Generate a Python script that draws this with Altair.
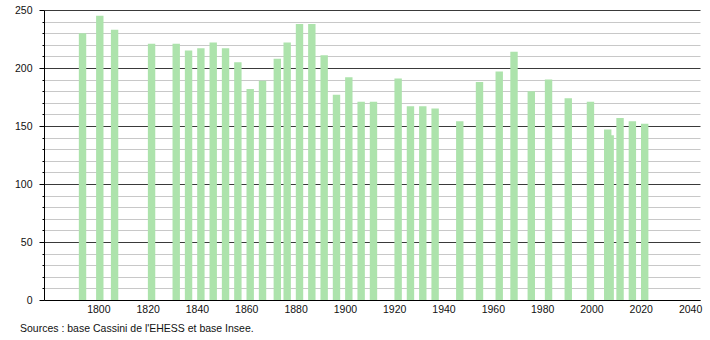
import altair as alt
import pandas as pd

years = [1793, 1800, 1806, 1821, 1831, 1836, 1841, 1846, 1851, 1856,
         1861, 1866, 1872, 1876, 1881, 1886, 1891, 1896, 1901, 1906,
         1911, 1921, 1926, 1931, 1936, 1946, 1954, 1962, 1968, 1975,
         1982, 1990, 1999, 2006, 2007, 2011, 2016, 2021]
population = [230, 245, 233, 221, 221, 215, 217, 222, 217, 205,
              182, 189, 208, 222, 238, 238, 211, 177, 192, 171,
              171, 191, 167, 167, 165, 154, 188, 197, 214, 180,
              190, 174, 171, 147, 142, 157, 154, 152]
x_ticks = list(range(1800, 2041, 20))
source_text = "Sources : base Cassini de l'EHESS et base Insee."

FONT = "Liberation Sans"
BAR = "#ade3ac"

df = pd.DataFrame({"year": years, "pop": population})

bars = alt.Chart(df).transform_calculate(
    x0="datum.year - 0.9", x1="datum.year + 2.1"
).mark_bar(color=BAR, orient="vertical").encode(
    x=alt.X("x0:Q",
            scale=alt.Scale(domain=[1780, 2042], nice=False, zero=False),
            axis=alt.Axis(values=x_ticks, ticks=False, grid=False, format="d",
                          domainColor="black", title=None, labelFont=FONT,
                          labelFontSize=10.5, labelColor="#111", labelPadding=4)),
    x2="x1:Q",
    y=alt.Y("pop:Q",
            scale=alt.Scale(domain=[0, 250], nice=False),
            axis=alt.Axis(values=list(range(0, 251, 10)),
                          labelExpr="datum.value % 50 === 0 ? datum.label : ''",
                          gridColor={"condition": {"test": "datum.value % 50 === 0", "value": "#3a3a3a"}, "value": "#c8c8c8"},
                          tickSize={"condition": {"test": "datum.value % 50 === 0", "value": 5}, "value": 2},
                          tickColor="black", domainColor="black", title=None,
                          labelFont=FONT, labelFontSize=10.5, labelColor="#111",
                          labelPadding=7, labelOverlap=False)),
    y2=alt.datum(0),
)

src = alt.Chart(pd.DataFrame({"t": [source_text]})).mark_text(
    align="left", baseline="middle", font=FONT, fontSize=10.5, color="#111"
).encode(x=alt.value(-24), y=alt.value(319), text="t:N")

chart = alt.layer(bars, src).properties(
    width=656, height=290,
    autosize=alt.AutoSizeParams(type="none"),
    padding={"left": 44, "top": 10, "right": 10, "bottom": 40},
).configure_view(stroke=None).configure_axis(gridWidth=1)

chart.save("out.html", embed_options={"renderer": "svg", "actions": False})
